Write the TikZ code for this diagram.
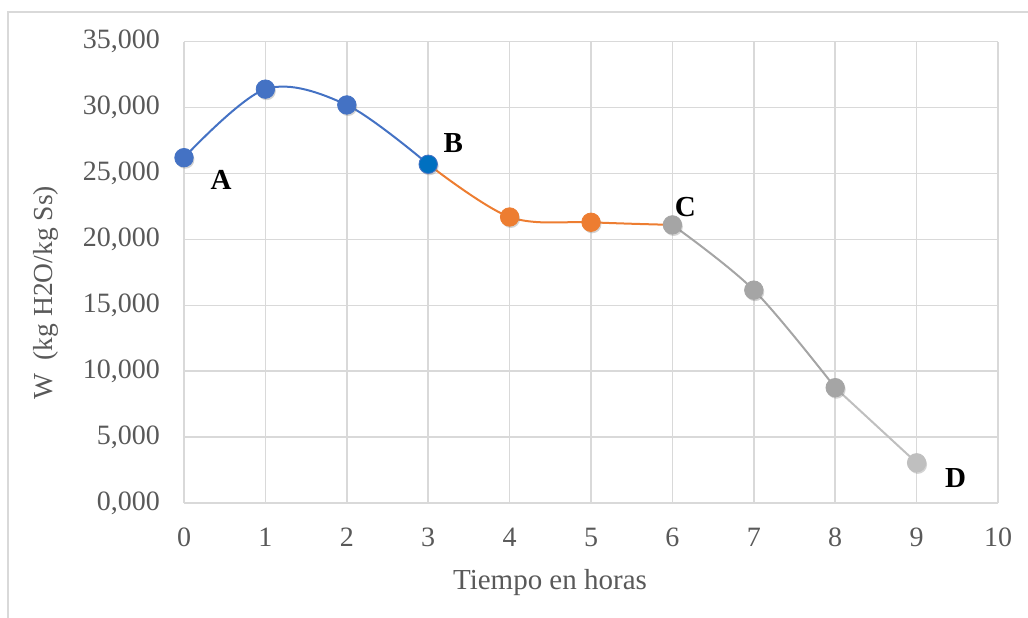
\documentclass[tikz,border=0pt]{standalone}
\usepackage{fontspec}
\setmainfont{Liberation Serif}
\usetikzlibrary{shadows}

\definecolor{gridgray}{HTML}{D9D9D9}
\definecolor{textgray}{HTML}{595959}
\definecolor{wblue}{HTML}{4472C4}
\definecolor{wbright}{HTML}{0070C0}
\definecolor{worange}{HTML}{ED7D31}
\definecolor{wgray}{HTML}{A5A5A5}
\definecolor{wlight}{HTML}{BFBFBF}

\begin{document}
\begin{tikzpicture}[
    x=1pt, y=1pt,
    grid line/.style={draw=gridgray, line width=1.5pt},
    tick label/.style={text=textgray, inner sep=0pt, font=\fontsize{28}{32}\selectfont},
    axis title/.style={text=textgray, inner sep=0pt, font=\fontsize{29}{34}\selectfont},
    point label/.style={inner sep=0pt, font=\fontsize{29}{34}\selectfont\bfseries},
    curve/.style={line width=2pt, smooth, tension=0.55},
    wmark/.style={circle, inner sep=0pt, minimum size=18.5pt, line width=0.8pt,
        drop shadow={shadow xshift=1.2pt, shadow yshift=-1.8pt, opacity=0.35}}
]
    \useasboundingbox (0,0) rectangle (1028,618);
    % outer frame
    \draw[gridgray, line width=1.5pt] (8,0) -- (8,606) -- (1028,606);

    \begin{scope}[shift={(184,115)}, x=81.4pt, y=13.18pt]
        % grid
        \foreach \i in {0,...,10}
            \draw[grid line] (\i,0) -- (\i,35);
        \foreach \v in {0,5,...,35}
            \draw[grid line] (0,\v) -- (10,\v);

        % tick labels
        \foreach \v/\t in {0/{0,000}, 5/{5,000}, 10/{10,000}, 15/{15,000},
                20/{20,000}, 25/{25,000}, 30/{30,000}, 35/{35,000}}
            \node[tick label, anchor=east, xshift=-24pt] (y\v) at (0,\v) {\t};
        \foreach \i in {0,...,10}
            \node[tick label, yshift=-34pt] (x\i) at (\i,0) {\i};

        % data (W in thousands)
        \foreach \t/\w in {0/26.2, 1/31.4, 2/30.2, 3/25.7, 4/21.7,
                5/21.3, 6/21.1, 7/16.15, 8/8.75, 9/3.05}
            \coordinate (w\t) at (\t,\w);

        \draw[curve, wblue] plot coordinates {(w0) (w1) (w2) (w3)};
        \draw[curve, worange] plot coordinates {(w3) (w4) (w5) (w6)};
        \draw[curve, wgray] plot coordinates {(w6) (w7) (w8)};
        \draw[curve, wlight] (w8) -- (w9);

        % markers
        \foreach \k in {0,1,2}
            \node[wmark, fill=wblue, draw=wblue] (m\k) at (w\k) {};
        \node[wmark, fill=wbright, draw=wblue] (m3) at (w3) {};
        \foreach \k in {4,5}
            \node[wmark, fill=worange, draw=worange] (m\k) at (w\k) {};
        \foreach \k in {6,7,8}
            \node[wmark, fill=wgray, draw=wgray] (m\k) at (w\k) {};
        \node[wmark, fill=wlight, draw=wlight] (m9) at (w9) {};

        % stage labels
        \node[point label] (A) at ([shift={(37pt,-22pt)}]m0.center) {A};
        \node[point label] (B) at ([shift={(25pt,21pt)}]m3.center) {B};
        \node[point label] (C) at ([shift={(13pt,18pt)}]m6.center) {C};
        \node[point label] (D) at ([shift={(39pt,-15pt)}]m9.center) {D};
    \end{scope}

    % axis titles
    \node[axis title] (xtitle) at (550,35) {Tiempo en horas};
    \node[axis title, rotate=90, font=\fontsize{27.5}{32}\selectfont] (ytitle) at (46,325) {W\ \ (kg H2O/kg Ss)};
\end{tikzpicture}
\end{document}
